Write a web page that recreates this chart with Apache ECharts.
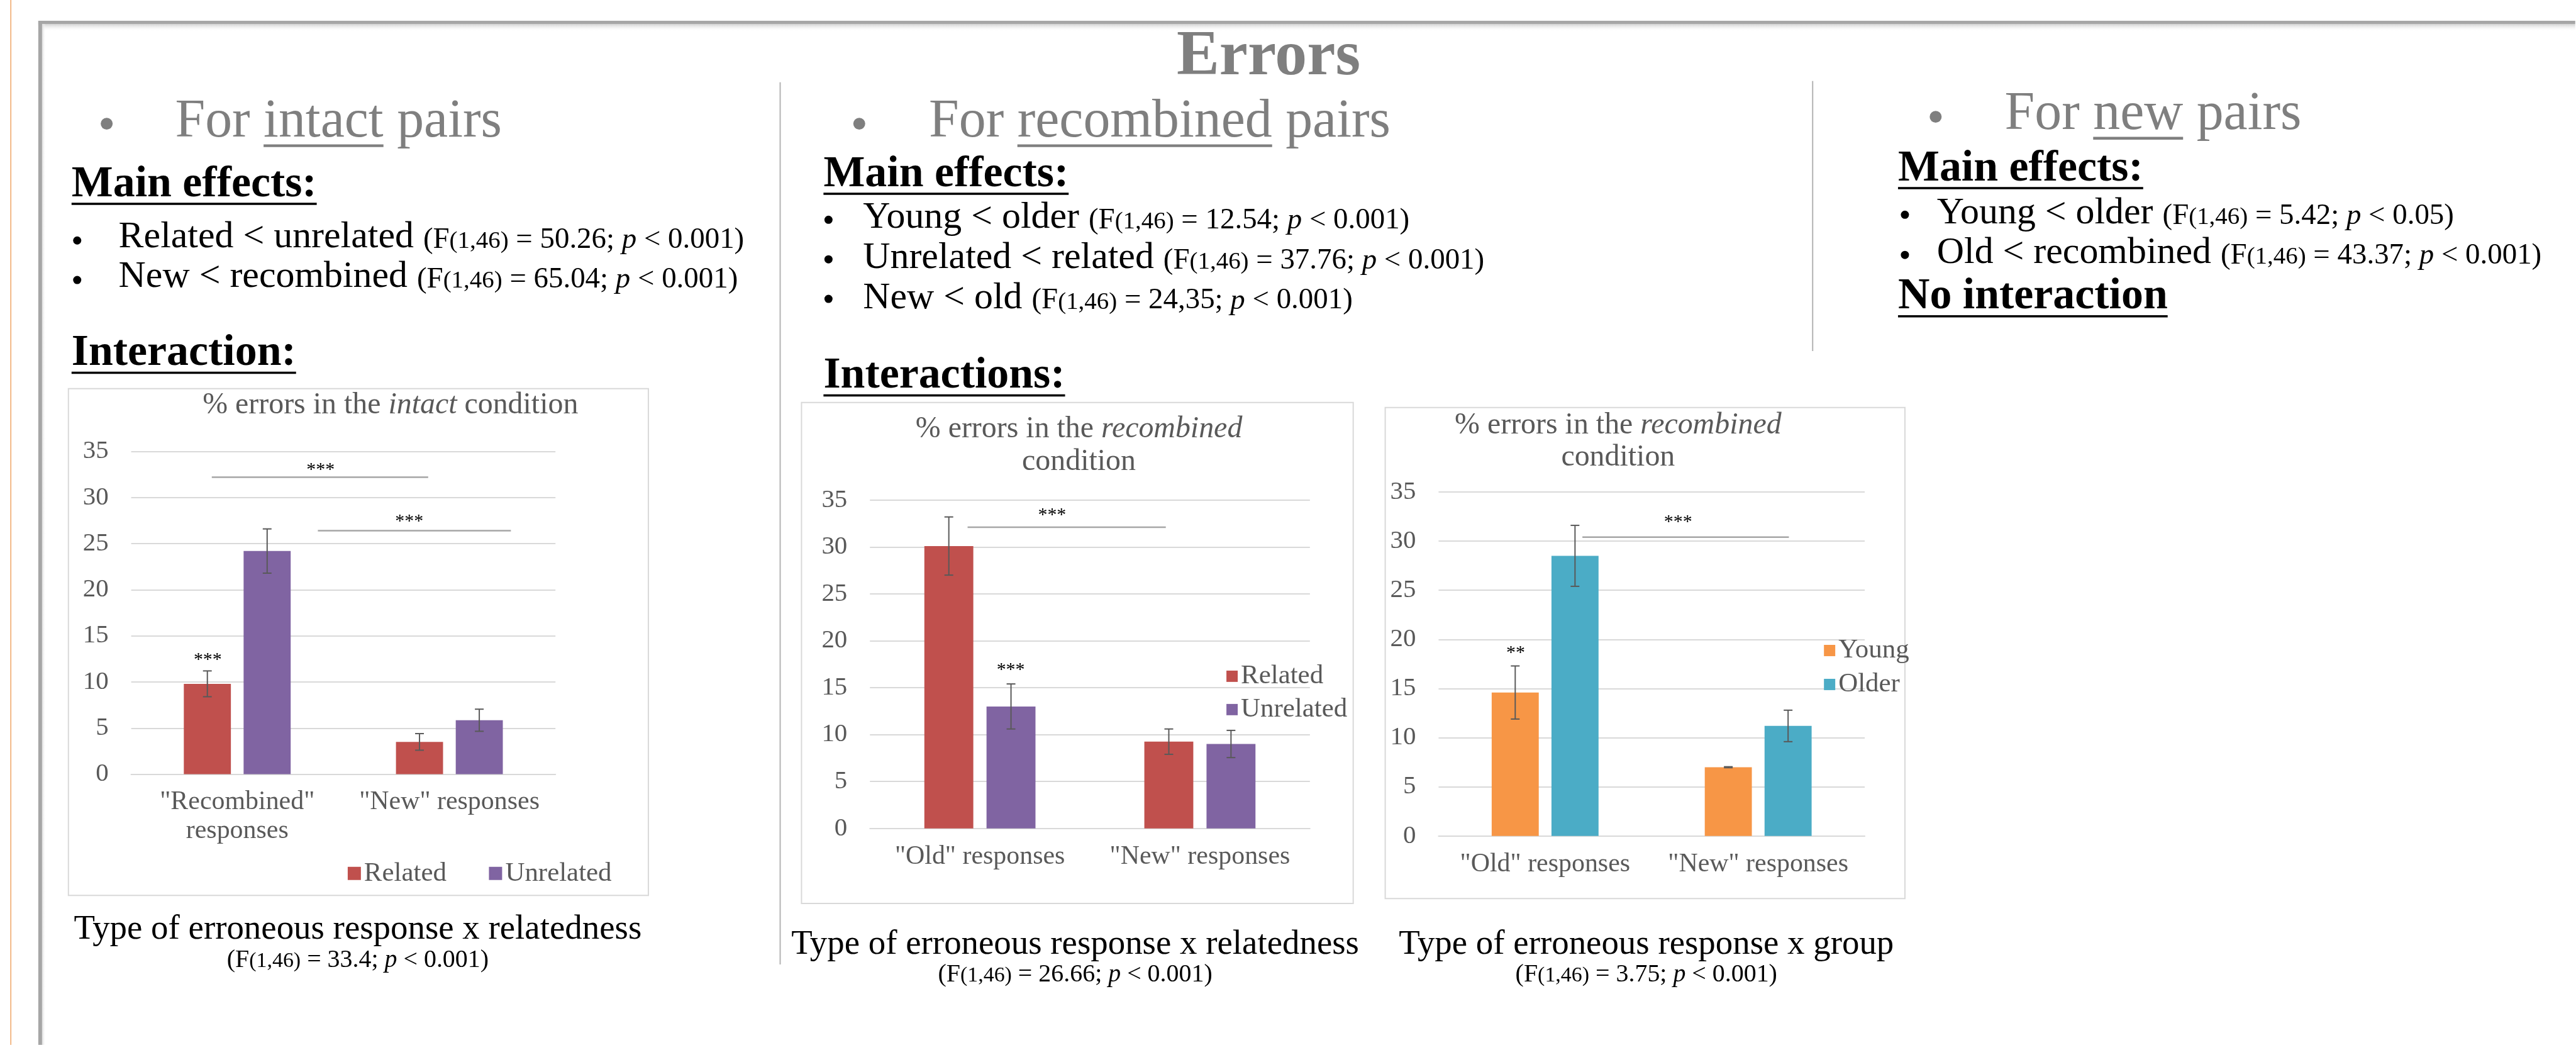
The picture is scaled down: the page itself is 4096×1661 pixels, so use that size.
<!DOCTYPE html>
<html>
<head>
<meta charset="utf-8">
<title>Errors</title>
<script src="https://cdn.jsdelivr.net/npm/echarts@6.0.0/dist/echarts.min.js"></script>
<style>
  html, body { margin: 0; padding: 0; background: #fff; }
  #main { width: 4096px; height: 1661px; }
</style>
</head>
<body>
<div id="main"></div>
<script>
// % errors
const intactCats = ['"Recombined"\nresponses', '"New" responses'];
const intactRelated = [9.8, 3.5];
const intactUnrelated = [24.2, 5.85];
const intactRelatedErr = [1.4, 0.9];
const intactUnrelatedErr = [2.4, 1.2];

const recombCats = ['"Old" responses', '"New" responses'];
const recombRelated = [30.1, 9.25];
const recombUnrelated = [13.0, 9.0];
const recombRelatedErr = [3.1, 1.35];
const recombUnrelatedErr = [2.4, 1.45];

const groupCats = ['"Old" responses', '"New" responses'];
const groupYoung = [14.6, 7.0];
const groupOlder = [28.5, 11.2];
const groupYoungErr = [2.7, 0.05];
const groupOlderErr = [3.1, 1.6];

const yMin = 0, yMax = 35, yStep = 5;

// significance brackets: [from, to] in category units, value
const intactBrackets = [[-0.12, 0.90, 32.2], [0.38, 1.29, 26.4]];
const recombBrackets = [[-0.056, 0.845, 32.1]];
const groupBrackets = [[0.175, 1.144, 30.4]];
// stars: position in category units, value, text
const intactStars = [[0.393, 33.0, '***'], [0.811, 27.4, '***'], [-0.139, 12.4, '***']];
const recombStars = [[0.328, 33.35, '***'], [0.14, 16.9, '***']];
const groupStars = [[0.624, 31.9, '***'], [-0.138, 18.6, '**']];

const K = 0.998;
const S = v => v * K;
const FONT = 'Liberation Serif';
const GRAY = '#7f7f7f';
const AXIS = '#595959';
const GRID = '#d9d9d9';

const mctx = document.createElement('canvas').getContext('2d');
function textWidth(t, size, weight, italic) {
  mctx.font = (italic ? 'italic ' : '') + (weight || 'normal') + ' ' + size + 'px "' + FONT + '"';
  return mctx.measureText(t).width;
}

const graphics = [];

// text runs on a common baseline (reference px)
function runs(x, baseline, segs, align) {
  let total = 0;
  segs.forEach(sg => total += textWidth(sg.t, S(sg.s), sg.w, sg.i));
  let cx = S(x);
  if (align === 'center') cx -= total / 2;
  segs.forEach(sg => {
    const size = S(sg.s);
    const w = textWidth(sg.t, size, sg.w, sg.i);
    const col = sg.c || '#000';
    graphics.push({
      type: 'text', x: cx, y: S(baseline) - 0.3375 * size, silent: true, z: 10,
      style: {
        text: sg.t, fontSize: size, fontFamily: FONT, fontWeight: sg.w || 'normal',
        fontStyle: sg.i ? 'italic' : 'normal', fill: col, align: 'left', verticalAlign: 'middle'
      }
    });
    if (sg.u) {
      graphics.push({
        type: 'rect', silent: true, z: 10,
        shape: { x: cx, y: S(baseline) + size * 0.07, width: w, height: Math.max(2, size * 0.05) },
        style: { fill: col }
      });
    }
    cx += w;
  });
}

function dot(x, y, r, color) {
  graphics.push({ type: 'circle', silent: true, z: 10, shape: { cx: S(x), cy: S(y), r: S(r) }, style: { fill: color } });
}

function stat(label, f, p) {
  return [
    { t: label, s: 60 },
    { t: '(F', s: 47 }, { t: '(1,46)', s: 39 }, { t: ' = ' + f + '; ', s: 47 },
    { t: 'p', s: 47, i: true }, { t: ' < ' + p + ')', s: 47 }
  ];
}

// slide frame
graphics.push({ type: 'rect', silent: true, shape: { x: S(16.5), y: 0, width: S(1.5), height: S(1664) }, style: { fill: '#efa464' } });
graphics.push({ type: 'rect', silent: true, shape: { x: S(61), y: S(38), width: S(4103 - 61), height: S(12) },
  style: { fill: new echarts.graphic.LinearGradient(0, 0, 0, 1, [{ offset: 0, color: '#cfcfcf' }, { offset: 1, color: 'rgba(255,255,255,0)' }]) } });
graphics.push({ type: 'rect', silent: true, shape: { x: S(67), y: S(38), width: S(6), height: S(1664 - 38) },
  style: { fill: new echarts.graphic.LinearGradient(0, 0, 1, 0, [{ offset: 0, color: '#dcdcdc' }, { offset: 1, color: 'rgba(255,255,255,0)' }]) } });
graphics.push({ type: 'rect', silent: true, shape: { x: S(61), y: S(33), width: S(4103 - 61), height: S(5) }, style: { fill: '#a6a6a6' } });
graphics.push({ type: 'rect', silent: true, shape: { x: S(61), y: S(33), width: S(6), height: S(1664 - 33) }, style: { fill: '#a6a6a6' } });

// column dividers
graphics.push({ type: 'line', silent: true, shape: { x1: S(1243), y1: S(131), x2: S(1243), y2: S(1536) }, style: { stroke: '#b3b3b3', lineWidth: S(2) } });
graphics.push({ type: 'line', silent: true, shape: { x1: S(2888), y1: S(129), x2: S(2888), y2: S(559) }, style: { stroke: '#b3b3b3', lineWidth: S(2) } });

// heading
runs(2021, 126, [{ t: 'Errors', s: 102, w: 'bold', c: GRAY }], 'center');

// intact column
dot(170, 197, 9.5, GRAY);
runs(279, 224, [{ t: 'For ', s: 86, c: GRAY }, { t: 'intact', s: 86, c: GRAY, u: true }, { t: ' pairs', s: 86, c: GRAY }]);
runs(114, 318, [{ t: 'Main effects:', s: 70, w: 'bold', u: true }]);
dot(123, 383, 6.5, '#000');
runs(189, 398, stat('Related < unrelated ', '50.26', '0.001'));
dot(123, 446, 6.5, '#000');
runs(189, 461, stat('New < recombined ', '65.04', '0.001'));
runs(114, 587, [{ t: 'Interaction:', s: 70, w: 'bold', u: true }]);

// recombined column
dot(1369, 197, 9.5, GRAY);
runs(1480, 224, [{ t: 'For ', s: 86, c: GRAY }, { t: 'recombined', s: 86, c: GRAY, u: true }, { t: ' pairs', s: 86, c: GRAY }]);
runs(1312, 302, [{ t: 'Main effects:', s: 70, w: 'bold', u: true }]);
dot(1320, 350, 6.5, '#000');
runs(1375, 367, stat('Young < older ', '12.54', '0.001'));
dot(1320, 413, 6.5, '#000');
runs(1375, 431, stat('Unrelated < related ', '37.76', '0.001'));
dot(1320, 476, 6.5, '#000');
runs(1375, 495, stat('New < old ', '24,35', '0.001'));
runs(1312, 623, [{ t: 'Interactions:', s: 70, w: 'bold', u: true }]);

// new column
dot(3084, 186, 9.5, GRAY);
runs(3194, 212, [{ t: 'For ', s: 86, c: GRAY }, { t: 'new', s: 86, c: GRAY, u: true }, { t: ' pairs', s: 86, c: GRAY }]);
runs(3024, 293, [{ t: 'Main effects:', s: 70, w: 'bold', u: true }]);
dot(3035, 342, 6.5, '#000');
runs(3086, 360, stat('Young < older ', '5.42', '0.05'));
dot(3035, 406, 6.5, '#000');
runs(3086, 423, stat('Old < recombined ', '43.37', '0.001'));
runs(3024, 497, [{ t: 'No interaction', s: 70, w: 'bold', u: true }]);

// chart frames
[[109, 619, 1033, 1426], [1277, 641, 2156, 1439], [2207, 649, 3035, 1431]].forEach(b => {
  graphics.push({ type: 'rect', silent: true, shape: { x: S(b[0]), y: S(b[1]), width: S(b[2] - b[0]), height: S(b[3] - b[1]) },
    style: { fill: 'none', stroke: GRID, lineWidth: S(2) } });
});

// chart titles
function chartTitle(x, y, text, lh) {
  graphics.push({
    type: 'text', x: S(x), y: S(y), silent: true, z: 10,
    style: {
      text: text, fontSize: S(48), fontFamily: FONT, fill: AXIS, align: 'center', verticalAlign: 'middle',
      lineHeight: S(lh || 52),
      rich: { i: { fontStyle: 'italic', fontSize: S(48), fontFamily: FONT, fill: AXIS, lineHeight: S(lh || 52) } }
    }
  });
}
chartTitle(622, 646, '% errors in the {i|intact} condition');
chartTitle(1719, 710, '% errors in the {i|recombined}\ncondition');
chartTitle(2578, 703, '% errors in the {i|recombined}\ncondition', 51);

// captions under the charts
function caption(x, b1, b2, title, f) {
  runs(x, b1, [{ t: title, s: 55 }], 'center');
  runs(x, b2, [{ t: '(F', s: 40 }, { t: '(1,46)', s: 34 }, { t: ' = ' + f + '; ', s: 40 },
    { t: 'p', s: 40, i: true }, { t: ' < 0.001)', s: 40 }], 'center');
}
caption(570, 1499, 1543, 'Type of erroneous response x relatedness', '33.4');
caption(1713, 1523, 1566, 'Type of erroneous response x relatedness', '26.66');
caption(2623, 1523, 1566, 'Type of erroneous response x group', '3.75');

// chart layout
const grids = [
  { left: S(209), top: S(719), width: S(676), height: S(514) },
  { left: S(1386), top: S(796.4), width: S(701), height: S(523) },
  { left: S(2292), top: S(783.5), width: S(679), height: S(548) }
];
const barW = [75, 78, 75];

function xAxisFor(gi, cats) {
  return {
    type: 'category', gridIndex: gi, data: cats,
    axisLine: { lineStyle: { color: GRID, width: S(2) } },
    axisTick: { show: false },
    axisLabel: { interval: 0, fontSize: S(42), lineHeight: S(46), color: AXIS, fontFamily: FONT, margin: S(22) }
  };
}
function yAxisFor(gi) {
  return {
    type: 'value', gridIndex: gi, min: yMin, max: yMax, interval: yStep,
    axisLine: { show: false }, axisTick: { show: false },
    splitLine: { lineStyle: { color: GRID, width: S(2) } },
    axisLabel: { fontSize: S(41), color: AXIS, fontFamily: FONT, margin: S(36) }
  };
}

function bar(gi, name, data, color) {
  return {
    type: 'bar', name: name, xAxisIndex: gi, yAxisIndex: gi, data: data,
    barWidth: S(barW[gi]), barGap: '27%', itemStyle: { color: color }, silent: true, z: 2
  };
}

function errBars(gi, vals, errs, sign) {
  const off = sign * 0.635 * S(barW[gi]);
  return {
    type: 'custom', xAxisIndex: gi, yAxisIndex: gi, silent: true, z: 4,
    data: vals.map((v, i) => [i, v, errs[i]]),
    renderItem: (params, api) => {
      const c = api.value(0), v = api.value(1), e = api.value(2);
      const x = api.coord([c, v])[0] + off;
      const hi = api.coord([c, v + e])[1];
      const lo = api.coord([c, v - e])[1];
      const cap = S(7);
      const st = { stroke: '#595959', lineWidth: S(2) };
      return {
        type: 'group', children: [
          { type: 'line', shape: { x1: x, y1: hi, x2: x, y2: lo }, style: st },
          { type: 'line', shape: { x1: x - cap, y1: hi, x2: x + cap, y2: hi }, style: st },
          { type: 'line', shape: { x1: x - cap, y1: lo, x2: x + cap, y2: lo }, style: st }
        ]
      };
    }
  };
}

function brackets(gi, list) {
  return {
    type: 'custom', xAxisIndex: gi, yAxisIndex: gi, silent: true, z: 4,
    data: list.map(b => [0, b[2]]),
    renderItem: (params, api) => {
      const b = list[params.dataIndex];
      const a0 = api.coord([0, b[2]]), a1 = api.coord([1, b[2]]);
      const band = a1[0] - a0[0];
      return {
        type: 'line', shape: { x1: a0[0] + b[0] * band, y1: a0[1], x2: a0[0] + b[1] * band, y2: a0[1] },
        style: { stroke: '#a6a6a6', lineWidth: S(2.5) }
      };
    }
  };
}

function stars(gi, list) {
  return {
    type: 'custom', xAxisIndex: gi, yAxisIndex: gi, silent: true, z: 5,
    data: list.map(s => [0, s[1]]),
    renderItem: (params, api) => {
      const s = list[params.dataIndex];
      const a0 = api.coord([0, s[1]]), a1 = api.coord([1, s[1]]);
      return {
        type: 'text', x: a0[0] + s[0] * (a1[0] - a0[0]), y: a0[1],
        style: { text: s[2], fontSize: S(30), fontFamily: FONT, fill: '#000', align: 'center', verticalAlign: 'middle' }
      };
    }
  };
}

const legendText = { fontSize: S(43), color: AXIS, fontFamily: FONT };
const gap1 = S(779) - (S(554) + S(21) + 5 + textWidth('Related', S(43)));

const chart = echarts.init(document.getElementById('main'), null, { renderer: 'canvas' });
chart.setOption({
  animation: false,
  backgroundColor: '#fff',
  grid: grids,
  xAxis: [xAxisFor(0, intactCats), xAxisFor(1, recombCats), xAxisFor(2, groupCats)],
  yAxis: [yAxisFor(0), yAxisFor(1), yAxisFor(2)],
  legend: [
    { data: ['Related', 'Unrelated'], orient: 'horizontal', left: S(554), top: S(1369.5), padding: 0,
      itemWidth: S(21), itemHeight: S(21), itemGap: gap1, icon: 'rect', selectedMode: false, textStyle: legendText },
    { data: ['Related', 'Unrelated'], orient: 'vertical', left: S(1954), top: S(1055.5), padding: 0,
      itemWidth: S(18), itemHeight: S(18), itemGap: S(10), icon: 'rect', selectedMode: false, textStyle: legendText },
    { data: ['Young', 'Older'], orient: 'vertical', left: S(2906), top: S(1014.5), padding: 0,
      itemWidth: S(18), itemHeight: S(18), itemGap: S(11), icon: 'rect', selectedMode: false, textStyle: legendText }
  ],
  series: [
    bar(0, 'Related', intactRelated, '#c0504d'),
    bar(0, 'Unrelated', intactUnrelated, '#8064a2'),
    errBars(0, intactRelated, intactRelatedErr, -1),
    errBars(0, intactUnrelated, intactUnrelatedErr, 1),
    brackets(0, intactBrackets),
    stars(0, intactStars),

    bar(1, 'Related', recombRelated, '#c0504d'),
    bar(1, 'Unrelated', recombUnrelated, '#8064a2'),
    errBars(1, recombRelated, recombRelatedErr, -1),
    errBars(1, recombUnrelated, recombUnrelatedErr, 1),
    brackets(1, recombBrackets),
    stars(1, recombStars),

    bar(2, 'Young', groupYoung, '#f79646'),
    bar(2, 'Older', groupOlder, '#4bacc6'),
    errBars(2, groupYoung, groupYoungErr, -1),
    errBars(2, groupOlder, groupOlderErr, 1),
    brackets(2, groupBrackets),
    stars(2, groupStars)
  ],
  graphic: graphics
});
</script>
</body>
</html>
